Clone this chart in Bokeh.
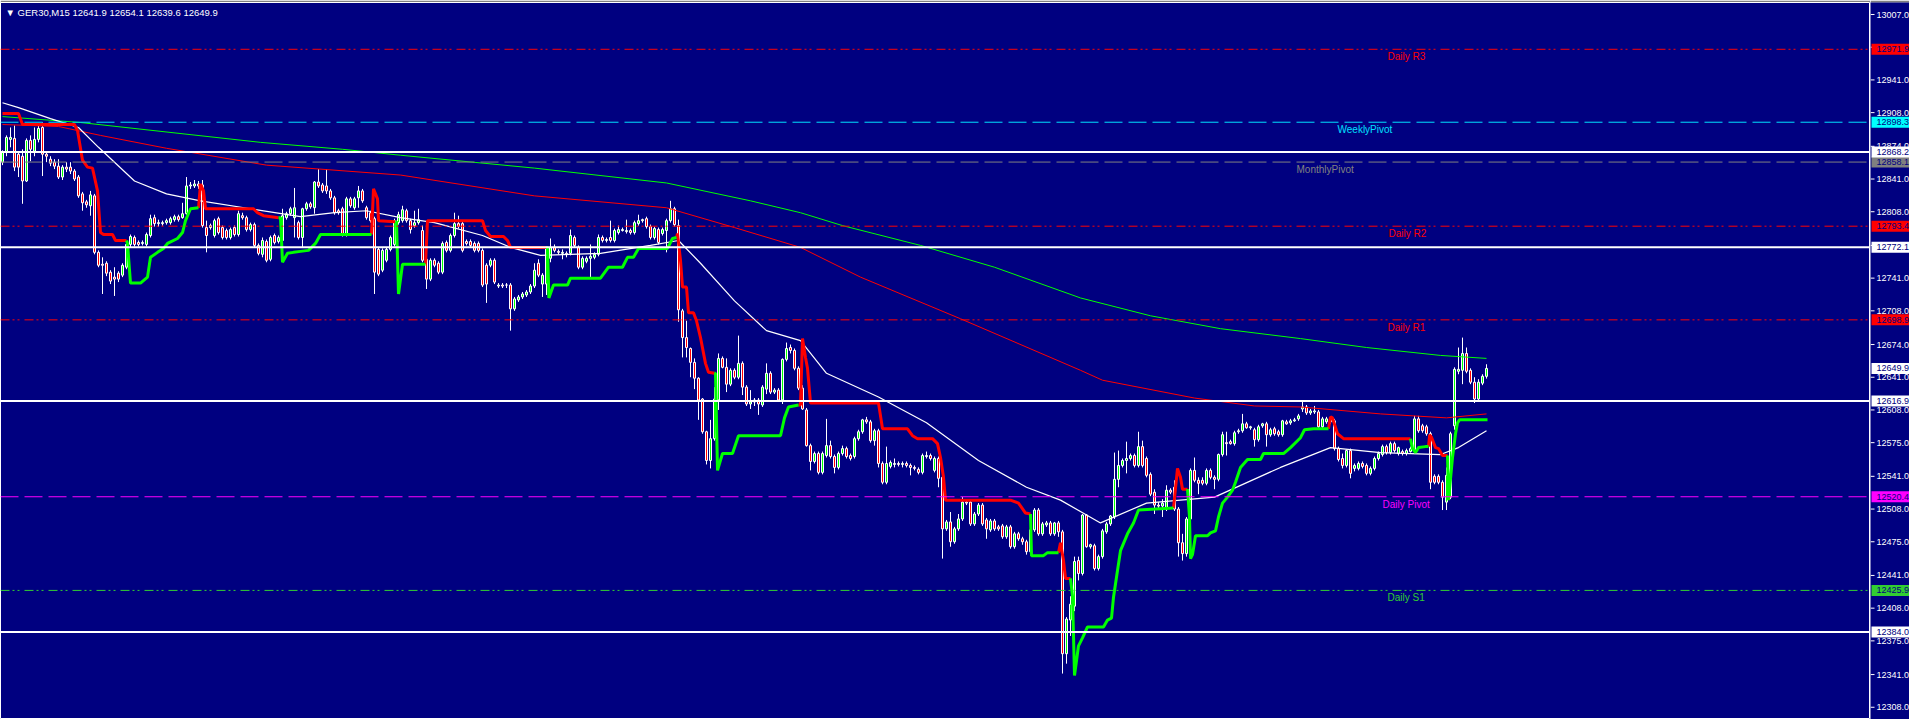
from bokeh.plotting import figure
from bokeh.layouts import row
from bokeh.models import Range1d, Label, Span, ColumnDataSource
from bokeh.core.properties import value
from bokeh.embed import file_html
from bokeh.resources import INLINE

# ---------------- DATA (GER30, M15) ----------------
symbol = "GER30,M15"

opens = [
    12858, 12868, 12881, 12882, 12866, 12864, 12839, 12880, 12869, 12881,
    12893, 12866, 12861, 12858, 12854, 12843, 12853, 12853, 12849, 12843,
    12826, 12818, 12814, 12824, 12767, 12755, 12756, 12747, 12742, 12746,
    12744, 12752, 12775, 12782, 12777, 12776, 12775, 12784, 12802, 12796,
    12796, 12797, 12797, 12800, 12803, 12802, 12806, 12834, 12834, 12836,
    12835, 12792, 12792, 12784, 12801, 12792, 12789, 12782, 12792, 12785,
    12804, 12802, 12790, 12795, 12774, 12765, 12778, 12760, 12784, 12778,
    12779, 12802, 12806, 12802, 12797, 12782, 12811, 12816, 12812, 12838,
    12835, 12834, 12829, 12822, 12809, 12811, 12785, 12821, 12812, 12822,
    12829, 12812, 12807, 12801, 12770, 12749, 12759, 12770, 12775, 12797,
    12799, 12809, 12799, 12794, 12797, 12789, 12760, 12740, 12759, 12756,
    12747, 12777, 12769, 12784, 12796, 12796, 12778, 12778, 12776, 12776,
    12769, 12754, 12754, 12759, 12733, 12734, 12734, 12734, 12710, 12719,
    12722, 12724, 12727, 12733, 12756, 12735, 12735, 12761, 12772, 12768,
    12766, 12766, 12766, 12782, 12772, 12752, 12758, 12761, 12762, 12765,
    12782, 12779, 12782, 12779, 12787, 12789, 12788, 12789, 12787, 12796,
    12799, 12801, 12793, 12782, 12790, 12786, 12789, 12799, 12811, 12794,
    12708, 12681, 12670, 12656, 12640, 12619, 12586, 12557, 12579, 12618,
    12660, 12651, 12634, 12648, 12641, 12655, 12631, 12614, 12616, 12618,
    12613, 12629, 12645, 12626, 12628, 12618, 12659, 12671, 12668, 12650,
    12630, 12608, 12572, 12556, 12564, 12545, 12562, 12572, 12561, 12550,
    12564, 12569, 12562, 12561, 12579, 12586, 12598, 12596, 12577, 12587,
    12554, 12535, 12551, 12553, 12554, 12553, 12554, 12552, 12550, 12548,
    12545, 12561, 12562, 12547, 12559, 12540, 12488, 12495, 12475, 12488,
    12498, 12515, 12515, 12493, 12503, 12512, 12497, 12487, 12496, 12490,
    12491, 12480, 12490, 12470, 12483, 12478, 12475, 12465, 12487, 12507,
    12483, 12492, 12494, 12483,
    12494, 12485, 12362, 12396, 12410, 12456, 12443, 12502, 12470, 12471,
    12448, 12460, 12485, 12493, 12500, 12538, 12552, 12557, 12559, 12562,
    12552, 12571, 12559, 12543, 12525, 12512, 12511, 12508, 12527, 12530,
    12508, 12474, 12463, 12498, 12547, 12537, 12537, 12534, 12547, 12540,
    12538, 12563, 12575, 12576, 12574, 12586, 12587, 12594, 12590, 12588,
    12578, 12592, 12594, 12583, 12589, 12586, 12583, 12596, 12595, 12597,
    12599,
    12609, 12611, 12605, 12606, 12606, 12591, 12596, 12599, 12597, 12569,
    12559, 12552, 12567, 12549, 12549, 12554, 12552, 12544, 12549, 12559,
    12563, 12571, 12565, 12574, 12564, 12566, 12564, 12566, 12568, 12599,
    12592, 12591, 12584, 12541, 12541, 12535, 12515, 12520, 12592, 12647,
    12648, 12665, 12648, 12636, 12619, 12635, 12641.9,
]

highs = [
    12870, 12885, 12893, 12895, 12869, 12871, 12882, 12885, 12893, 12896,
    12898, 12869, 12864, 12861, 12861, 12855, 12858, 12858, 12851, 12845,
    12828, 12820, 12829, 12826, 12769, 12762, 12758, 12749, 12752, 12748,
    12756, 12778, 12785, 12784, 12779, 12779, 12787, 12805, 12805, 12800,
    12799, 12801, 12803, 12805, 12805, 12817, 12843, 12838, 12840, 12839,
    12840, 12799, 12796, 12801, 12803, 12794, 12791, 12792, 12794, 12809,
    12807, 12804, 12797, 12797, 12776, 12782, 12780, 12784, 12786, 12784,
    12811, 12808, 12813, 12832, 12799, 12812, 12818, 12818, 12839, 12851,
    12837, 12851, 12831, 12824, 12811, 12813, 12823, 12823, 12823, 12834,
    12831, 12814, 12809, 12803, 12772, 12771, 12772, 12784, 12801, 12808,
    12814, 12811, 12801, 12809, 12811, 12794, 12762, 12761, 12761, 12758,
    12778, 12779, 12786, 12807, 12804, 12798, 12780, 12780, 12778, 12778,
    12771, 12756, 12761, 12761, 12736, 12736, 12736, 12736, 12722, 12724,
    12727, 12729, 12735, 12756, 12760, 12746, 12773, 12781, 12775, 12770,
    12770, 12768, 12790, 12784, 12774, 12763, 12763, 12775, 12767, 12785,
    12784, 12782, 12799, 12791, 12794, 12792, 12800, 12791, 12799, 12805,
    12801, 12803, 12795, 12793, 12792, 12792, 12801, 12819, 12813, 12800,
    12710, 12698, 12671, 12660, 12641, 12620, 12587, 12598, 12631, 12665,
    12662, 12660, 12650, 12650, 12683, 12657, 12633, 12628, 12620, 12620,
    12633, 12655, 12647, 12630, 12630, 12660, 12676, 12674, 12670, 12652,
    12633, 12610, 12574, 12566, 12566, 12566, 12599, 12577, 12563, 12566,
    12572, 12571, 12564, 12581, 12588, 12599, 12601, 12598, 12589, 12589,
    12556, 12571, 12557, 12559, 12556, 12556, 12556, 12554, 12552, 12550,
    12564, 12566, 12564, 12561, 12561, 12542, 12497, 12505, 12490, 12503,
    12520, 12517, 12517, 12505, 12514, 12514, 12499, 12498, 12498, 12492,
    12493, 12492, 12492, 12485, 12485, 12480, 12477, 12489, 12509, 12509,
    12495, 12496, 12496, 12495,
    12496, 12487, 12399, 12420, 12460, 12460, 12503, 12503, 12473, 12473,
    12462, 12488, 12495, 12502, 12565, 12567, 12559, 12576, 12564, 12564,
    12586, 12577, 12561, 12545, 12528, 12515, 12518, 12532, 12529, 12537,
    12510, 12483, 12500, 12549, 12560, 12540, 12540, 12549, 12549, 12542,
    12564, 12586, 12586, 12578, 12587, 12589, 12604, 12596, 12592, 12590,
    12593, 12595, 12596, 12590, 12591, 12588, 12598, 12598, 12599, 12600,
    12604,
    12616, 12613, 12609, 12612, 12608, 12601, 12601, 12601, 12599, 12571,
    12564, 12568, 12569, 12554, 12556, 12556, 12554, 12551, 12561, 12566,
    12573, 12573, 12576, 12576, 12571, 12568, 12569, 12571, 12602, 12602,
    12594, 12593, 12586, 12543, 12543, 12537, 12550, 12586, 12651, 12671,
    12681, 12671, 12650, 12641, 12639, 12644, 12654.1,
]

lows = [
    12855, 12864, 12873, 12849, 12843, 12816, 12838, 12859, 12864, 12878,
    12844, 12858, 12854, 12851, 12841, 12840, 12848, 12846, 12839, 12822,
    12809, 12812, 12804, 12765, 12752, 12725, 12743, 12735, 12723, 12737,
    12742, 12750, 12772, 12773, 12773, 12774, 12773, 12782, 12793, 12793,
    12794, 12795, 12795, 12798, 12798, 12801, 12805, 12831, 12832, 12831,
    12792, 12767, 12790, 12782, 12785, 12780, 12780, 12780, 12783, 12783,
    12800, 12788, 12788, 12772, 12764, 12762, 12757, 12758, 12775, 12776,
    12772, 12800, 12804, 12782, 12780, 12772, 12809, 12811, 12806, 12832,
    12827, 12826, 12820, 12805, 12805, 12783, 12783, 12812, 12810, 12812,
    12817, 12800, 12797, 12725, 12743, 12747, 12757, 12768, 12773, 12795,
    12797, 12797, 12786, 12792, 12795, 12757, 12730, 12738, 12752, 12745,
    12745, 12767, 12767, 12782, 12791, 12767, 12774, 12772, 12767, 12767,
    12732, 12716, 12752, 12735, 12731, 12731, 12731, 12688, 12708, 12717,
    12720, 12722, 12725, 12731, 12742, 12722, 12724, 12757, 12767, 12765,
    12760, 12762, 12764, 12772, 12750, 12750, 12756, 12742, 12760, 12763,
    12777, 12777, 12777, 12777, 12785, 12788, 12786, 12785, 12785, 12794,
    12797, 12791, 12780, 12780, 12775, 12784, 12767, 12797, 12793, 12697,
    12661, 12661, 12641, 12629, 12598, 12584, 12553, 12549, 12577, 12608,
    12650, 12626, 12632, 12639, 12639, 12623, 12612, 12609, 12612, 12603,
    12611, 12624, 12624, 12624, 12616, 12614, 12657, 12665, 12648, 12628,
    12608, 12571, 12547, 12554, 12543, 12543, 12560, 12559, 12544, 12548,
    12562, 12559, 12557, 12559, 12577, 12584, 12594, 12575, 12572, 12550,
    12533, 12533, 12549, 12550, 12551, 12550, 12550, 12542, 12547, 12543,
    12543, 12559, 12557, 12545, 12530, 12458, 12486, 12470, 12473, 12486,
    12496, 12512, 12491, 12491, 12501, 12491, 12478, 12485, 12486, 12486,
    12478, 12478, 12468, 12468, 12476, 12472, 12462, 12463, 12485, 12481,
    12481, 12490, 12481, 12481,
    12480, 12342, 12352, 12380, 12405, 12436, 12441, 12469, 12468, 12446,
    12446, 12458, 12483, 12491, 12498, 12530, 12550, 12544, 12557, 12550,
    12550, 12550, 12540, 12521, 12503, 12509, 12500, 12506, 12523, 12506,
    12460, 12456, 12460, 12496, 12535, 12523, 12532, 12532, 12538, 12528,
    12536, 12561, 12562, 12573, 12572, 12584, 12585, 12589, 12588, 12571,
    12576, 12590, 12571, 12581, 12582, 12581, 12581, 12593, 12593, 12596,
    12597,
    12606, 12603, 12603, 12604, 12589, 12589, 12594, 12594, 12567, 12556,
    12549, 12550, 12539, 12546, 12547, 12549, 12542, 12542, 12547, 12557,
    12561, 12563, 12563, 12565, 12562, 12562, 12562, 12565, 12566, 12585,
    12585, 12582, 12528, 12533, 12533, 12507, 12507, 12518, 12588, 12644,
    12634, 12645, 12634, 12615, 12617, 12633, 12639.6,
]

closes = [
    12868, 12883, 12883, 12853, 12853, 12839, 12880, 12871, 12881, 12892,
    12866, 12864, 12857, 12854, 12843, 12853, 12851, 12849, 12841, 12824,
    12817, 12815, 12825, 12767, 12754, 12754, 12746, 12738, 12740, 12740,
    12754, 12775, 12783, 12775, 12775, 12777, 12785, 12801, 12796, 12797,
    12797, 12799, 12801, 12803, 12800, 12806, 12834, 12835, 12836, 12834,
    12794, 12784, 12794, 12799, 12787, 12782, 12782, 12790, 12785, 12806,
    12802, 12790, 12795, 12774, 12766, 12779, 12759, 12782, 12777, 12782,
    12804, 12806, 12811, 12812, 12782, 12811, 12816, 12813, 12838, 12834,
    12829, 12829, 12822, 12807, 12807, 12785, 12821, 12814, 12821, 12829,
    12819, 12802, 12799, 12747, 12745, 12769, 12770, 12782, 12799, 12805,
    12810, 12799, 12790, 12797, 12800, 12759, 12740, 12759, 12754, 12747,
    12776, 12769, 12784, 12796, 12793, 12769, 12776, 12774, 12769, 12769,
    12734, 12735, 12759, 12737, 12734, 12733, 12734, 12710, 12720, 12722,
    12725, 12727, 12733, 12749, 12744, 12744, 12771, 12772, 12769, 12767,
    12767, 12765, 12784, 12774, 12752, 12761, 12761, 12763, 12765, 12782,
    12779, 12780, 12779, 12789, 12790, 12790, 12789, 12787, 12797, 12799,
    12800, 12793, 12782, 12791, 12777, 12790, 12799, 12811, 12795, 12709,
    12681, 12671, 12656, 12640, 12618, 12586, 12557, 12579, 12619, 12660,
    12651, 12634, 12648, 12641, 12655, 12631, 12614, 12616, 12618, 12614,
    12631, 12645, 12626, 12628, 12618, 12659, 12670, 12668, 12650, 12630,
    12609, 12572, 12556, 12564, 12545, 12564, 12572, 12561, 12550, 12564,
    12569, 12561, 12559, 12579, 12586, 12598, 12596, 12577, 12587, 12554,
    12535, 12554, 12555, 12554, 12553, 12554, 12552, 12550, 12549, 12545,
    12562, 12562, 12559, 12559, 12539, 12488, 12495, 12475, 12488, 12498,
    12515, 12514, 12493, 12503, 12512, 12493, 12488, 12496, 12488, 12488,
    12480, 12490, 12470, 12483, 12478, 12475, 12465, 12487, 12507, 12483,
    12493, 12494, 12483, 12494,
    12485, 12362, 12397, 12412, 12455, 12443, 12502, 12470, 12472, 12448,
    12460, 12486, 12493, 12501, 12538, 12552, 12557, 12559, 12562, 12552,
    12571, 12552, 12542, 12523, 12512, 12511, 12514, 12527, 12525, 12508,
    12474, 12463, 12498, 12547, 12537, 12534, 12534, 12547, 12540, 12538,
    12563, 12583, 12574, 12574, 12585, 12587, 12594, 12590, 12591, 12578,
    12591, 12594, 12583, 12588, 12584, 12583, 12597, 12594, 12597, 12598,
    12602,
    12611, 12605, 12607, 12607, 12591, 12599, 12599, 12596, 12569, 12558,
    12552, 12567, 12544, 12552, 12554, 12551, 12544, 12549, 12559, 12564,
    12571, 12565, 12574, 12567, 12570, 12564, 12567, 12569, 12599, 12587,
    12587, 12584, 12535, 12535, 12535, 12520, 12542, 12584, 12649, 12649,
    12665, 12647, 12636, 12619, 12636, 12642, 12649.9,
]

# moving averages (bar index, price)
ma_green_i = [0, 19.5, 64.5, 85, 99.5, 133, 166, 187, 199.5, 210, 229.5, 248, 269.5, 287, 304.5, 324.5, 341, 359.5, 371]
ma_green_p = [12904, 12898, 12878, 12871, 12865, 12852, 12837, 12819, 12807, 12794, 12774, 12752, 12721, 12703, 12690, 12680, 12671, 12663, 12660]

ma_red_i = [0, 14, 24.5, 41, 66, 99.5, 133, 166, 183, 199.5, 214.5, 239.5, 269.5, 275, 298, 313, 324.5, 344.5, 361, 371]
ma_red_p = [12896, 12894, 12885, 12872, 12855, 12845, 12824, 12812, 12792, 12772, 12742, 12700, 12648, 12638, 12620, 12612, 12611, 12604, 12600, 12604]

ma_white_i = [0, 4, 12, 19, 24, 33, 41, 49.5, 62, 74.5, 83, 91, 99.5, 108, 120, 127, 134.5, 149.5, 162, 169,
              174.5, 183, 191, 199.5, 206, 219, 231, 244, 256, 264.5, 274.5, 286, 303, 319.5, 332, 344.5, 359.5, 364, 371]
ma_white_p = [12918, 12913, 12902, 12893, 12873, 12839, 12826, 12819, 12811, 12803, 12807, 12809, 12802, 12797, 12784, 12772, 12764, 12766, 12774, 12779,
              12756, 12718, 12688, 12678, 12645, 12621, 12595, 12557, 12530, 12517, 12494, 12514, 12520, 12550, 12570, 12565, 12563, 12570, 12587]

# trailing stop line: down-trend (red) and up-trend (green) runs
st_red_i = [
    [0, 4, 5, 18, 18.75, 20, 21.25, 22.5, 23.75, 24.5, 25.25, 27.5, 28.25, 31],
    [49, 49.5, 50.25, 50.75, 62.75, 63.75, 65.25, 69],
    [92.25, 92.75, 93.75, 94, 98.25],
    [105.75, 106.25, 120, 120.75, 122, 125.25, 126.25, 127, 136],
    [168.5, 168.75, 169.5, 170, 171, 171.5, 172.75, 173.5, 174.5, 175.75, 176.5, 178],
    [199, 199.5, 200, 200.75, 201.25, 202, 219, 220, 226.25, 227.5, 228.75, 232.5, 233.75, 234.5, 235.25, 235.75, 252, 254, 255.75, 257],
    [264, 264.5, 265.25, 265.75, 267],
    [292.75, 293.75, 294.5, 295, 296.25],
    [331.5, 332, 332.5, 333.75, 335.25, 352],
    [356.5, 356.8, 357.3, 358.25, 359, 360, 361.25],
]
st_red_p = [
    [12907, 12907, 12896, 12896, 12890, 12860, 12853, 12852, 12829, 12787, 12785, 12785, 12779, 12779],
    [12812, 12836, 12829, 12811, 12811, 12807, 12804, 12802],
    [12785, 12831, 12821, 12799, 12798],
    [12755, 12799, 12799, 12789, 12783, 12783, 12779, 12772, 12772],
    [12782, 12786, 12759, 12732, 12732, 12706, 12706, 12698, 12681, 12655, 12646, 12645],
    [12613, 12613, 12680, 12661, 12650, 12615, 12615, 12589, 12589, 12582, 12579, 12579, 12574, 12560, 12540, 12517, 12517, 12514, 12504, 12503],
    [12464, 12474, 12456, 12438, 12438],
    [12509, 12549, 12540, 12528, 12528],
    [12589, 12601, 12600, 12584, 12579, 12579],
    [12571, 12583, 12580, 12570, 12569, 12562, 12562],
]
st_green_i = [
    [31, 31.25, 32, 34.5, 36.25, 37, 38.75, 40.25, 41.25, 43.75, 45, 45.75, 47, 49],
    [69, 69.5, 70, 71.25, 72.75, 74.5, 76.5, 78.25, 79.5, 92.25],
    [98.25, 98.5, 99, 100, 105.75],
    [136, 136.25, 136.6, 137.75, 141.25, 142, 149.5, 151.5, 155, 156.25, 157.75, 159, 166.25, 167.5, 168.5],
    [178, 178.25, 178.75, 180, 182.5, 184, 194.5, 195.5, 196.5, 199],
    [257, 257.25, 260.25, 261.25, 264],
    [267, 267.5, 268, 268.5, 269, 270, 271.25, 275.25, 276.25, 277.25, 277.75, 278.75, 279.5, 281.25, 282.75, 284, 292.75],
    [296.25, 296.75, 297, 297.5, 298.25, 301.25, 302, 303.25, 304, 305, 306.25, 307.5, 308.25, 309.5, 311.25, 314.5, 315.25, 320.25, 322, 324.5, 325.5, 327.75, 331.5],
    [352, 352.5, 353.25, 354, 355.75, 356.5],
    [361.25, 361.5, 362.5, 363.25, 363.75, 364.25, 371.25],
]
st_green_p = [
    [12779, 12776, 12736, 12736, 12742, 12762, 12767, 12771, 12776, 12781, 12787, 12799, 12811, 12812],
    [12802, 12802, 12757, 12766, 12767, 12768, 12769, 12776, 12785, 12785],
    [12798, 12798, 12725, 12755, 12755],
    [12772, 12772, 12721, 12734, 12734, 12741, 12741, 12752, 12752, 12762, 12762, 12771, 12771, 12781, 12782],
    [12645, 12645, 12547, 12564, 12564, 12582, 12582, 12600, 12611, 12613],
    [12503, 12461, 12461, 12464, 12464],
    [12438, 12420, 12340, 12355, 12370, 12378, 12389, 12389, 12396, 12398, 12419, 12446, 12466, 12483, 12494, 12507, 12509],
    [12528, 12500, 12458, 12462, 12481, 12481, 12484, 12486, 12500, 12514, 12520, 12527, 12535, 12550, 12558, 12558, 12564, 12564, 12570, 12580, 12588, 12589, 12589],
    [12579, 12569, 12565, 12570, 12571, 12571],
    [12562, 12517, 12560, 12584, 12595, 12598, 12598],
]

# pivot levels
level_names = ["Daily R3", "WeeklyPivot", "MonthlyPivot", "Daily R2", "Daily R1", "Daily Pivot", "Daily S1"]
level_prices = [12971.9, 12898.3, 12858.1, 12793.4, 12698.9, 12520.4, 12425.9]
hline_prices = [12868.2, 12772.1, 12616.9, 12384.0]

tick_values = [13007.0, 12974.0, 12941.0, 12908.0, 12874.0, 12841.0, 12808.0, 12774.0, 12741.0, 12708.0, 12674.0,
               12641.0, 12608.0, 12575.0, 12541.0, 12508.0, 12475.0, 12441.0, 12408.0, 12375.0, 12341.0, 12308.0]

# ---------------- STYLE / LAYOUT ----------------
NAVY = "#000080"
FONT = "Liberation Sans"
DASH_DOT_DOT = "9 3 2 3 2 5"
LONG_DASH = "18 6"
level_style = {
    "Daily R3": ("#FF0000", DASH_DOT_DOT),
    "WeeklyPivot": ("#00E0FF", LONG_DASH),
    "MonthlyPivot": ("#808080", LONG_DASH),
    "Daily R2": ("#FF0000", DASH_DOT_DOT),
    "Daily R1": ("#FF0000", DASH_DOT_DOT),
    "Daily Pivot": ("#FF00FF", LONG_DASH),
    "Daily S1": ("#32CD32", DASH_DOT_DOT),
}
label_box_bg = {
    "Daily R3": "#FF0000", "WeeklyPivot": "#00FFFF", "MonthlyPivot": "#808080",
    "Daily R2": "#FF0000", "Daily R1": "#FF0000", "Daily Pivot": "#FF00FF", "Daily S1": "#32CD32",
}
label_bar_pos = {  # bar index where each level's caption starts
    "Daily R3": 346.25, "WeeklyPivot": 333.75, "MonthlyPivot": 323.5, "Daily R2": 346.5,
    "Daily R1": 346.25, "Daily Pivot": 345.0, "Daily S1": 346.25,
}

TOTAL_W, H = 1909, 719
MAIN_W = 1870
STRIP_W = TOTAL_W - MAIN_W
TOP = 2
BAR_PX = 4.0
PT_PER_PX = 1.009
x_start = -2 / BAR_PX
x_end = x_start + MAIN_W / BAR_PX
y_top = tick_values[0] + (14 - TOP) * PT_PER_PX
y_bot = y_top - (H - TOP) * PT_PER_PX
yr = Range1d(y_bot, y_top)

p = figure(width=MAIN_W, height=H, x_range=Range1d(x_start, x_end), y_range=yr,
           output_backend="svg", toolbar_location=None, x_axis_location=None, y_axis_location=None,
           background_fill_color=NAVY, border_fill_color="#808080",
           min_border_left=0, min_border_top=TOP, min_border_bottom=0, min_border_right=0)
p.grid.visible = False
p.outline_line_color = "white"
p.outline_line_width = 1

# ---------------- CANDLES ----------------
idx = list(range(len(closes)))
src = ColumnDataSource(dict(
    x=idx, h=highs, l=lows,
    top=[max(o, c) for o, c in zip(opens, closes)],
    bot=[min(o, c) for o, c in zip(opens, closes)],
    fill=["#00FF00" if c >= o else "#FF0000" for o, c in zip(opens, closes)],
))
p.segment(x0="x", y0="l", x1="x", y1="h", source=src, line_color="white", line_width=1)
p.vbar(x="x", width=0.5, top="top", bottom="bot", fill_color="fill", line_color="white", line_width=1, source=src)

# ---------------- INDICATORS ----------------
p.line(ma_green_i, ma_green_p, line_color="#00FF00", line_width=1)
p.line(ma_red_i, ma_red_p, line_color="#FF0000", line_width=1)
p.line(ma_white_i, ma_white_p, line_color="white", line_width=1.2)
p.multi_line(st_red_i, st_red_p, line_color="#FF0000", line_width=3)
p.multi_line(st_green_i, st_green_p, line_color="#00FF00", line_width=3)

# ---------------- LEVELS ----------------
for name, price in zip(level_names, level_prices):
    col, dash = level_style[name]
    p.add_layout(Span(location=price, dimension="width", line_color=col, line_dash=dash, line_width=1))
for price in hline_prices:
    p.add_layout(Span(location=price, dimension="width", line_color="white", line_width=2))

p.text(x=[label_bar_pos[n] for n in level_names], y=level_prices, text=level_names,
       text_color=[level_style[n][0] for n in level_names], text_font=value(FONT),
       text_font_size="10px", text_baseline="top", text_align="left", y_offset=2)

# chart caption
p.add_layout(Label(x=0.75, y=tick_values[0] + 2 * PT_PER_PX,
                   text=f"\u25BC {symbol}  {opens[-1]:.1f} {highs[-1]:.1f} {lows[-1]:.1f} {closes[-1]:.1f}",
                   text_font=FONT, text_font_size="9.5px", text_color="white", text_baseline="middle"))

# ---------------- PRICE SCALE STRIP ----------------
s = figure(width=STRIP_W, height=H, x_range=Range1d(0, STRIP_W), y_range=yr,
           output_backend="svg", toolbar_location=None, x_axis_location=None, y_axis_location=None,
           background_fill_color=NAVY, border_fill_color="#808080",
           min_border_left=0, min_border_top=TOP, min_border_bottom=0, min_border_right=0)
s.grid.visible = False
s.outline_line_color = None

nt = len(tick_values)
s.segment(x0=[0] * nt, y0=tick_values, x1=[4] * nt, y1=tick_values, line_color="white", line_width=1)
s.text(x=[6] * nt, y=tick_values, text=[f"{t:.1f}" for t in tick_values], text_color="white",
       text_font=value(FONT), text_font_size="9px", text_baseline="middle", text_align="left")

tag_prices = list(level_prices) + list(hline_prices) + [closes[-1]]
tag_colors = [label_box_bg[n] for n in level_names] + ["white"] * len(hline_prices) + ["white"]
nt2 = len(tag_prices)
s.rect(x=[20] * nt2, y=tag_prices, width=38, height=11, width_units="screen", height_units="screen",
       fill_color=tag_colors, line_color=None)
s.text(x=[6] * nt2, y=tag_prices, text=[f"{v:.1f}" for v in tag_prices], text_color=NAVY,
       text_font=value(FONT), text_font_size="9px", text_baseline="middle", text_align="left")

layout = row(p, s, spacing=0)
open("out.html", "w").write(file_html(layout, INLINE))
